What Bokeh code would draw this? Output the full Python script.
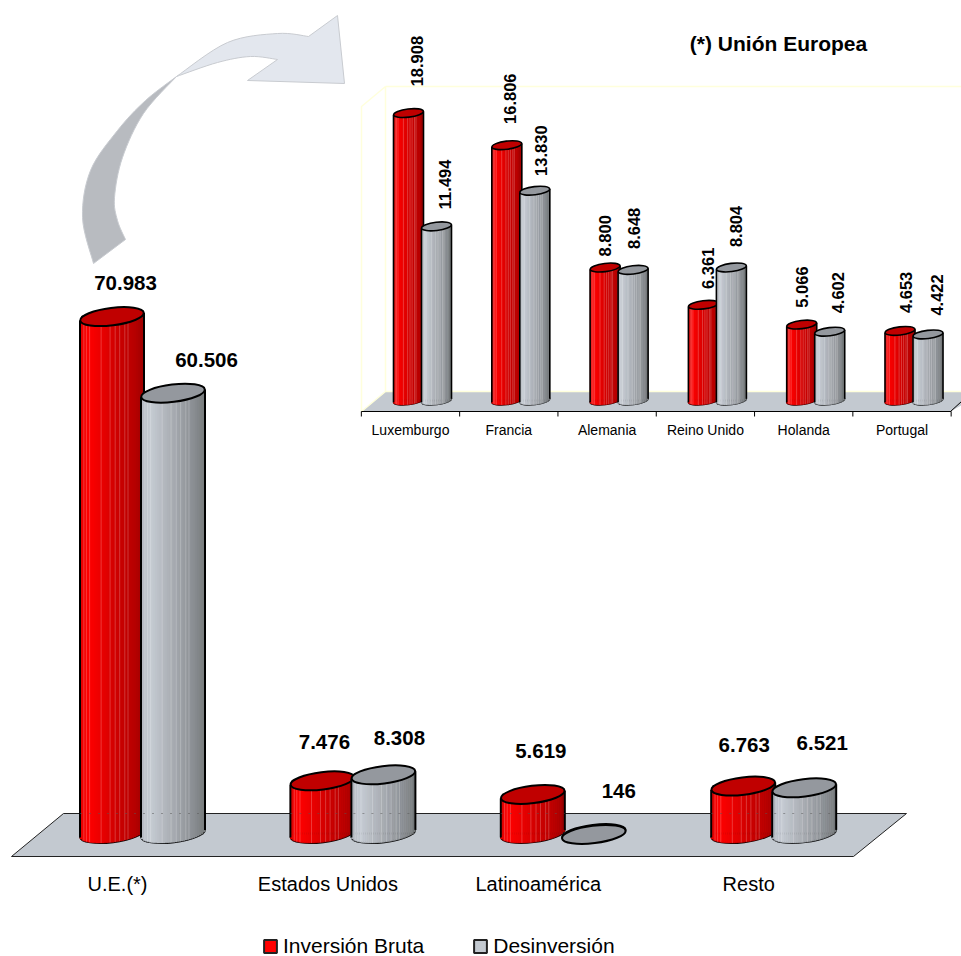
import numpy as np
from bokeh.plotting import figure
from bokeh.models import Range1d, Legend, LegendItem, ColumnDataSource
from bokeh.core.properties import value
from bokeh.embed import file_html
from bokeh.resources import INLINE

# ---- data ----
main_categories = ["U.E.(*)", "Estados Unidos", "Latinoamérica", "Resto"]
main_inversion = [70983, 7476, 5619, 6763]
main_desinversion = [60506, 8308, 146, 6521]

inset_categories = ["Luxemburgo", "Francia", "Alemania", "Reino Unido", "Holanda", "Portugal"]
inset_inversion = [18908, 16806, 8800, 6361, 5066, 4653]
inset_desinversion = [11494, 13830, 8648, 8804, 4602, 4422]

series_names = ["Inversión Bruta", "Desinversión"]
inset_title = "(*) Unión Europea"

# ---- label nudges (px, relative to bar top centre) ----
main_dx = [[13.5, 2, 8, 1], [33.5, 16, 25, 18]]
main_dy = [[-34, -39, -43, -41], [-33.5, -37, -43, -44.5]]
inset_dx = [[8, 3, 0, 5, 0, 6], [8, 6, 1, 5, 8, 9]]
inset_dy = [[-52, -46.5, -31.7, -36.5, -37.5, -38.5], [-42, -40, -41.5, -41, -39, -39.5]]

# ---- page geometry ----
X0, X1, Y0, Y1 = 0, 961, 0, 956
FONT = value("Liberation Sans")

# main scale: group g -> px, value -> px
M_STEP, M_ORG, M_K, M_BASE = 210.4, 117.0, 0.00731, 835.0
# inset scale
I_STEP, I_ORG, I_K, I_BASE = 98.3, 410.0, 0.01528, 401.5

p = figure(width=X1 - X0, height=Y1 - Y0, output_backend="svg", toolbar_location=None,
           x_range=Range1d(X0, X1), y_range=Range1d(Y1, Y0),
           x_axis_type=None, y_axis_type=None, min_border=0, outline_line_color=None,
           background_fill_color="white")
p.grid.visible = False
p.extra_x_ranges = {
    "mx": Range1d((X0 - M_ORG) / M_STEP, (X1 - M_ORG) / M_STEP),
    "ix": Range1d((X0 - I_ORG) / I_STEP, (X1 - I_ORG) / I_STEP),
}
p.extra_y_ranges = {
    "my": Range1d((M_BASE - Y1) / M_K, (M_BASE - Y0) / M_K),
    "iy": Range1d((I_BASE - Y1) / I_K, (I_BASE - Y0) / I_K),
}

RED = [(0, "#e00000"), (.12, "#ff0000"), (.3, "#ee0000"), (.6, "#cc0000"), (.85, "#b80000"), (1, "#a00000")]
GREY = [(0, "#b4bac2"), (.15, "#c6ccd4"), (.5, "#a8acb2"), (.85, "#888c90"), (1, "#787c7e")]
HAIR = np.array([.06, .1, .15, .33, .47, .55, .62, .7, .75])
legend_renderers = {}


def shade(stops, t):
    ts = [s[0] for s in stops]
    rgb = [[int(s[1][i:i + 2], 16) for s in stops] for i in (1, 3, 5)]
    return "#%02x%02x%02x" % tuple(int(np.interp(t, ts, c)) for c in rgb)


def lower_edge(a, b, tau, xs):
    phi = np.linspace(0, 2 * np.pi, 1441)
    ex = a * np.cos(phi) * np.cos(tau) - b * np.sin(phi) * np.sin(tau)
    ey = a * np.cos(phi) * np.sin(tau) + b * np.sin(phi) * np.cos(tau)
    low = phi > np.pi
    order = np.argsort(ex[low])
    return np.interp(xs, ex[low][order], ey[low][order])


def cylinder(xc, val, stops, top_color, a, b, step, k, xr, yr, lw, n, key, flat, lift):
    """One cylinder at axis position xc; a, b are the ellipse half axes in px, lift raises its foot."""
    tau = np.radians(7)
    kw = dict(x_range_name=xr, y_range_name=yr)
    sw, sh = 2 * a, 2 * b
    foot = lift / k
    # bottom ellipse outline
    p.ellipse([xc], [foot], width=sw, height=sh, angle=tau, width_units="screen", height_units="screen",
              fill_color=stops[2][1], line_color="black", line_width=lw, **kw)
    # the bar itself, flat colour; also what the legend shows
    r = p.vbar(x=[xc], width=(2 * a - 4) / step, bottom=[foot], top=[max(val, foot)], fill_color=flat,
               line_color="#222222", line_width=2, **kw)
    legend_renderers.setdefault(key, r)
    # shaded body
    edges = np.linspace(-a, a, n + 1)
    mids = (edges[:-1] + edges[1:]) / 2
    lows = lower_edge(a, b, tau, mids)
    cols = [shade(stops, (m + a) / (2 * a)) for m in mids]
    tops = max(val, foot) + (lows + 1) / k
    p.vbar(x=xc + mids / step, width=(2 * a / n) / step, bottom=foot + lows / k, top=tops,
           fill_color=cols, line_color=cols, line_width=0.5, **kw)
    # light hairlines of the shading
    hx = -a + 2 * a * HAIR
    hl = lower_edge(a, b, tau, hx)
    p.segment(x0=xc + hx / step, x1=xc + hx / step, y0=foot + hl / k, y1=max(val, foot) + hl / k,
              line_color="white", line_alpha=0.22, line_width=1, **kw)
    # side lines
    side = np.array([-a, a])
    sl = lower_edge(a * 0.999, b, tau, side * 0.999)
    p.segment(x0=xc + side / step, x1=xc + side / step, y0=foot + sl / k, y1=max(val, foot) + sl / k,
              line_color="black", line_width=lw, **kw)
    # top ellipse
    p.ellipse([xc], [val], width=sw, height=sh, angle=tau, width_units="screen", height_units="screen",
              fill_color=top_color, line_color="black", line_width=lw, **kw)


def catmull(pts, per=8):
    pts = np.array(pts, float)
    q = np.vstack([pts[0], pts, pts[-1]])
    out = []
    for i in range(1, len(q) - 2):
        for t in np.linspace(0, 1, per, endpoint=False):
            out.append(0.5 * (2 * q[i] + (q[i + 1] - q[i - 1]) * t
                              + (2 * q[i - 1] - 5 * q[i] + 4 * q[i + 1] - q[i + 2]) * t ** 2
                              + (3 * q[i] - q[i - 1] - 3 * q[i + 1] + q[i + 2]) * t ** 3))
    out.append(pts[-1])
    return np.array(out)


# ---- curved arrow (decoration, in page px) ----
outer = catmull([(93, 263), (82, 217), (90, 170), (117, 130), (145, 100), (176, 76)])
inner = catmull([(176, 76), (143, 113), (122, 157), (114, 197), (117, 220), (125, 239)])
dark = np.vstack([outer, inner])
p.patch(dark[:, 0], dark[:, 1], fill_color="#b8bbc0", line_color="#c8cbd0", line_width=1)
up = catmull([(176, 76), (227, 42), (277, 33), (308, 36)])
lo = catmull([(277, 59), (250, 56), (217, 62), (176, 76)])
head = np.array([(337, 15), (344, 83), (247, 80)], float)
light = np.vstack([up, head, lo])
p.patch(light[:, 0], light[:, 1], fill_color="#e3e7ee", line_color="#c8cbd0", line_width=1)

# ---- main floor ----
p.patch([63, 906, 853, 11], [813, 813, 856, 856], fill_color="#c3c9d0", line_color="#222222", line_width=1)

# ---- main cylinders ----
M_SHIFT = 25 / M_STEP
M_OFF = 30.5 / M_STEP
for g in range(len(main_categories)):
    cylinder(g + M_SHIFT - M_OFF, main_inversion[g], RED, "#c00000", 32, 8.7, M_STEP, M_K, "mx", "my", 2, 32, 0, "#ff0000", 2)
    cylinder(g + M_SHIFT + M_OFF, main_desinversion[g], GREY, "#94989e", 32, 8.7, M_STEP, M_K, "mx", "my", 2, 32, 1, "#c3c9d0", 2)

# dotted trace of the floor's back edge on the bars
for g in range(len(main_categories)):
    right = M_OFF + 32 / M_STEP if main_desinversion[g] > 3000 else -M_OFF + 32 / M_STEP
    p.segment([g + M_SHIFT - M_OFF - 32 / M_STEP], [(M_BASE - 813) / M_K], [g + M_SHIFT + right], [(M_BASE - 813) / M_K],
              line_color="#555555", line_alpha=0.5, line_width=1, line_dash="2 7", x_range_name="mx", y_range_name="my")

# ---- inset walls and floor ----
WALL = "#ffffdc"
p.patch([361, 385, 985, 950], [411, 391, 391, 411], fill_color="#c3c9d0", line_color=None)
p.multi_line([[361, 361, 385, 385, 361], [385, 961], [385, 961]], [[411, 106, 86, 391, 411], [86, 86], [391, 391]],
             line_color=WALL, line_width=1.5)
p.segment([950], [411], [961], [401], line_color="black", line_width=1)
p.segment([I_ORG - I_STEP / 2], [411], [I_ORG + 5.5 * I_STEP], [411], line_color="black", line_width=1.2)
ticks = np.arange(len(inset_categories) + 1) - 0.5
p.segment(ticks, [(I_BASE - 411) / I_K] * len(ticks), ticks, [(I_BASE - 416) / I_K] * len(ticks),
          line_color="black", line_width=1, x_range_name="ix", y_range_name="iy")

# ---- inset cylinders ----
I_SHIFT = 12 / I_STEP
I_OFF = 14 / I_STEP
for i in range(len(inset_categories)):
    cylinder(i + I_SHIFT - I_OFF, inset_inversion[i], RED, "#c00000", 15, 4.1, I_STEP, I_K, "ix", "iy", 1.6, 16, 0, "#ff0000", 1.5)
    cylinder(i + I_SHIFT + I_OFF, inset_desinversion[i], GREY, "#94989e", 15, 4.1, I_STEP, I_K, "ix", "iy", 1.6, 16, 1, "#c3c9d0", 1.5)


def fmt(v):
    return f"{v:,}".replace(",", ".")


# ---- value labels ----
for s, (vals, sign) in enumerate([(main_inversion, -1), (main_desinversion, 1)]):
    src = ColumnDataSource(dict(x=[g + M_SHIFT + sign * M_OFF for g in range(len(vals))], y=vals,
                                t=[fmt(v) for v in vals], dx=main_dx[s], dy=main_dy[s]))
    p.text("x", "y", text="t", x_offset="dx", y_offset="dy", source=src, text_font=FONT, text_font_style="bold",
           text_font_size="20.5px", text_align="center", text_baseline="middle", text_color="black",
           x_range_name="mx", y_range_name="my")
for s, (vals, sign) in enumerate([(inset_inversion, -1), (inset_desinversion, 1)]):
    src = ColumnDataSource(dict(x=[i + I_SHIFT + sign * I_OFF for i in range(len(vals))], y=vals,
                                t=[fmt(v) for v in vals], dx=inset_dx[s], dy=inset_dy[s]))
    p.text("x", "y", text="t", x_offset="dx", y_offset="dy", angle=np.pi / 2, source=src, text_font=FONT,
           text_font_style="bold", text_font_size="16.5px", text_align="center", text_baseline="middle",
           text_color="black", x_range_name="ix", y_range_name="iy")

# ---- category labels ----
p.text(list(range(len(main_categories))), [(M_BASE - 883) / M_K] * len(main_categories), text=main_categories,
       text_font=FONT, text_font_size="20px", text_align="center", text_baseline="middle", text_color="black",
       x_range_name="mx", y_range_name="my")
p.text(list(range(len(inset_categories))), [(I_BASE - 429.5) / I_K] * len(inset_categories), text=inset_categories,
       text_font=FONT, text_font_size="14px", text_align="center", text_baseline="middle", text_color="black",
       x_range_name="ix", y_range_name="iy")
p.text([778], [42.5], text=[inset_title], text_font=FONT, text_font_style="bold", text_font_size="21px",
       text_align="center", text_baseline="middle", text_color="black")

# ---- legend ----
leg = Legend(items=[LegendItem(label=series_names[0], renderers=[legend_renderers[0]], index=0),
                    LegendItem(label=series_names[1], renderers=[legend_renderers[1]], index=0)],
             orientation="horizontal", location=(262, -2), glyph_width=16, glyph_height=16, label_standoff=5,
             spacing=48, padding=0, margin=0, background_fill_alpha=0, border_line_alpha=0,
             label_text_font="Liberation Sans", label_text_font_size="21px", label_text_color="black",
             label_height=20)
p.add_layout(leg)

open("out.html", "w").write(file_html(p, INLINE))
